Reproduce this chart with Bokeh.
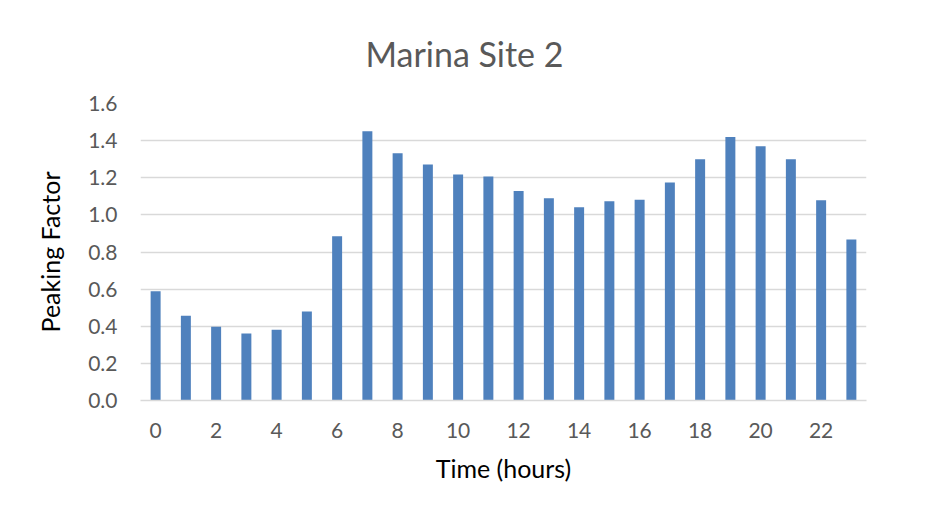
from bokeh.plotting import figure
from bokeh.models import FixedTicker, Range1d, CustomJSTickFormatter
from bokeh.embed import file_html
from bokeh.resources import INLINE

hours = list(range(24))
peaking = [0.589, 0.456, 0.397, 0.361, 0.381, 0.479, 0.885, 1.451, 1.332, 1.271,
           1.217, 1.207, 1.129, 1.090, 1.041, 1.074, 1.081, 1.174, 1.300, 1.419,
           1.370, 1.300, 1.079, 0.867]
x_ticks = list(range(0, 24, 2))
y_ticks = [0.0, 0.2, 0.4, 0.6, 0.8, 1.0, 1.2, 1.4, 1.6]

FONT = "Lato"

p = figure(width=922, height=514, output_backend="svg", toolbar_location=None,
           x_range=Range1d(-0.5, 23.5), y_range=Range1d(0, 1.6),
           min_border_left=140, min_border_right=56, min_border_top=103, min_border_bottom=114)

p.vbar(x=hours, top=peaking, width=0.33, fill_color="#4F81BD", line_color=None)

p.title.text = "Marina Site 2"
p.title.align = "left"
p.title.offset = 225
p.title.text_font = FONT
p.title.text_font_style = "normal"
p.title.text_font_size = "34px"
p.title.text_color = "#595959"
p.title.standoff = 59

p.outline_line_color = None
p.xgrid.grid_line_color = None
p.ygrid.grid_line_color = "#d9d9d9"
p.ygrid.grid_line_width = 1.5

p.xaxis.ticker = FixedTicker(ticks=x_ticks)
p.yaxis.ticker = FixedTicker(ticks=y_ticks)
p.yaxis.formatter = CustomJSTickFormatter(code="return tick.toFixed(1);")

for ax in (p.xaxis, p.yaxis):
    ax.major_tick_line_color = None
    ax.minor_tick_line_color = None
    ax.major_label_text_font = FONT
    ax.major_label_text_font_size = "21px"
    ax.major_label_text_color = "#595959"
    ax.axis_label_text_font = FONT
    ax.axis_label_text_font_size = "25px"
    ax.axis_label_text_font_style = "normal"
    ax.axis_label_text_color = "#000000"

p.xaxis.axis_line_color = "#d9d9d9"
p.xaxis.axis_line_width = 1.5
p.yaxis.axis_line_color = None
p.xaxis.axis_label = "Time (hours)"
p.yaxis.axis_label = "Peaking Factor"
p.xaxis.major_label_standoff = 16
p.xaxis.axis_label_standoff = 12
p.yaxis.major_label_standoff = 17
p.yaxis.axis_label_standoff = 20

open("out.html", "w").write(file_html(p, INLINE))
